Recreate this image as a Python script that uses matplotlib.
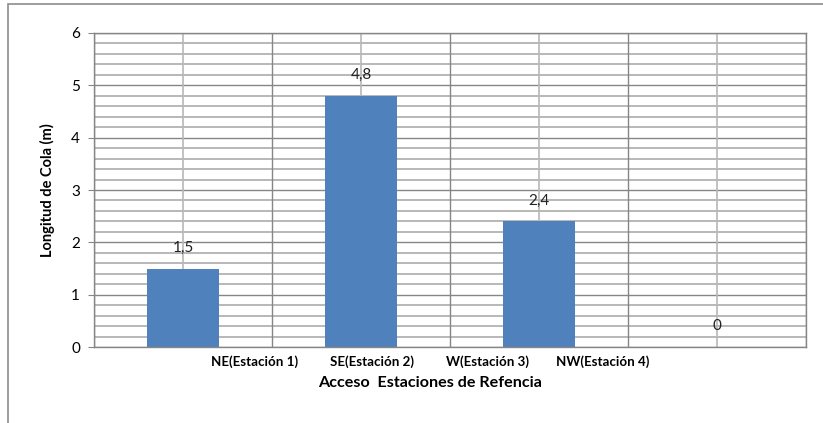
#!/usr/bin/env python3
"""Longitud de cola por acceso (estaciones de referencia)."""

import matplotlib

matplotlib.use("Agg")
import matplotlib.pyplot as plt
from matplotlib.patches import Rectangle

categories = ["NE(Estación 1)", "SE(Estación 2)", "W(Estación 3)", "NW(Estación 4)"]
values = [1.5, 4.8, 2.4, 0.0]
value_labels = ["1,5", "4,8", "2,4", "0"]
y_ticks = [0, 1, 2, 3, 4, 5, 6]

BAR = "#4F81BD"
MAJOR = "#868686"
MINOR = "#B8B8B8"

plt.rcParams["font.family"] = ["Lato", "DejaVu Sans"]

fig = plt.figure(figsize=(8.23, 4.23), dpi=100)
fig.patch.set_facecolor("white")
ax = fig.add_axes([94 / 823, 76 / 423, 712 / 823, 314 / 423])

n = len(categories)
x = list(range(n))
ax.set_xlim(-0.5, n - 0.5)
ax.set_ylim(0, 6)

# horizontal grid: light every 0.2, darker at integers
for i in range(31):
    yv = i * 0.2
    major = i % 5 == 0
    ax.axhline(yv, color=MAJOR if major else MINOR, lw=1.0 if major else 1.4, zorder=0)
# vertical grid: dark at slot edges, light at slot centres
for i in range(n + 1):
    ax.axvline(i - 0.5, color=MAJOR, lw=1.0, zorder=0)
for xi in x:
    ax.axvline(xi, color=MINOR, lw=1.2, zorder=0)

ax.bar(x, values, width=0.4, color=BAR, zorder=2)
for xi, v, lab in zip(x, values, value_labels):
    ax.annotate(lab, (xi, v), xytext=(0, 10), textcoords="offset points",
                ha="center", va="bottom", fontsize=11, color="#222222")

# category labels sit offset from the bars, as in the original export
label_pos = [0.40, 1.06, 1.71, 2.36]
ax.set_xticks(label_pos)
ax.set_xticklabels(categories, fontsize=9.6, fontweight="bold")
ax.tick_params(axis="x", length=0, pad=6)

ax.set_yticks(y_ticks)
ax.set_yticklabels([str(t) for t in y_ticks], fontsize=11)
ax.tick_params(axis="y", length=4, color=MAJOR, pad=6)

for s in ax.spines.values():
    s.set_color(MAJOR)
    s.set_linewidth(1.0)

ax.set_ylabel("Longitud de Cola (m)", fontsize=10.5, fontweight="bold", labelpad=12)
fig.text(430 / 823, 1 - 383 / 423, "Acceso  Estaciones de Refencia",
         ha="center", va="center", fontsize=11.6, fontweight="bold")

# outer chart frame, cut off at the right and bottom
fig.patches.append(Rectangle((8 / 823, -0.1), 1.2, 1 - 4 / 423 + 0.1,
                             transform=fig.transFigure, fill=False,
                             edgecolor="#8C8C8C", lw=1.2))

fig.savefig("out.png", dpi=100, facecolor="white")
